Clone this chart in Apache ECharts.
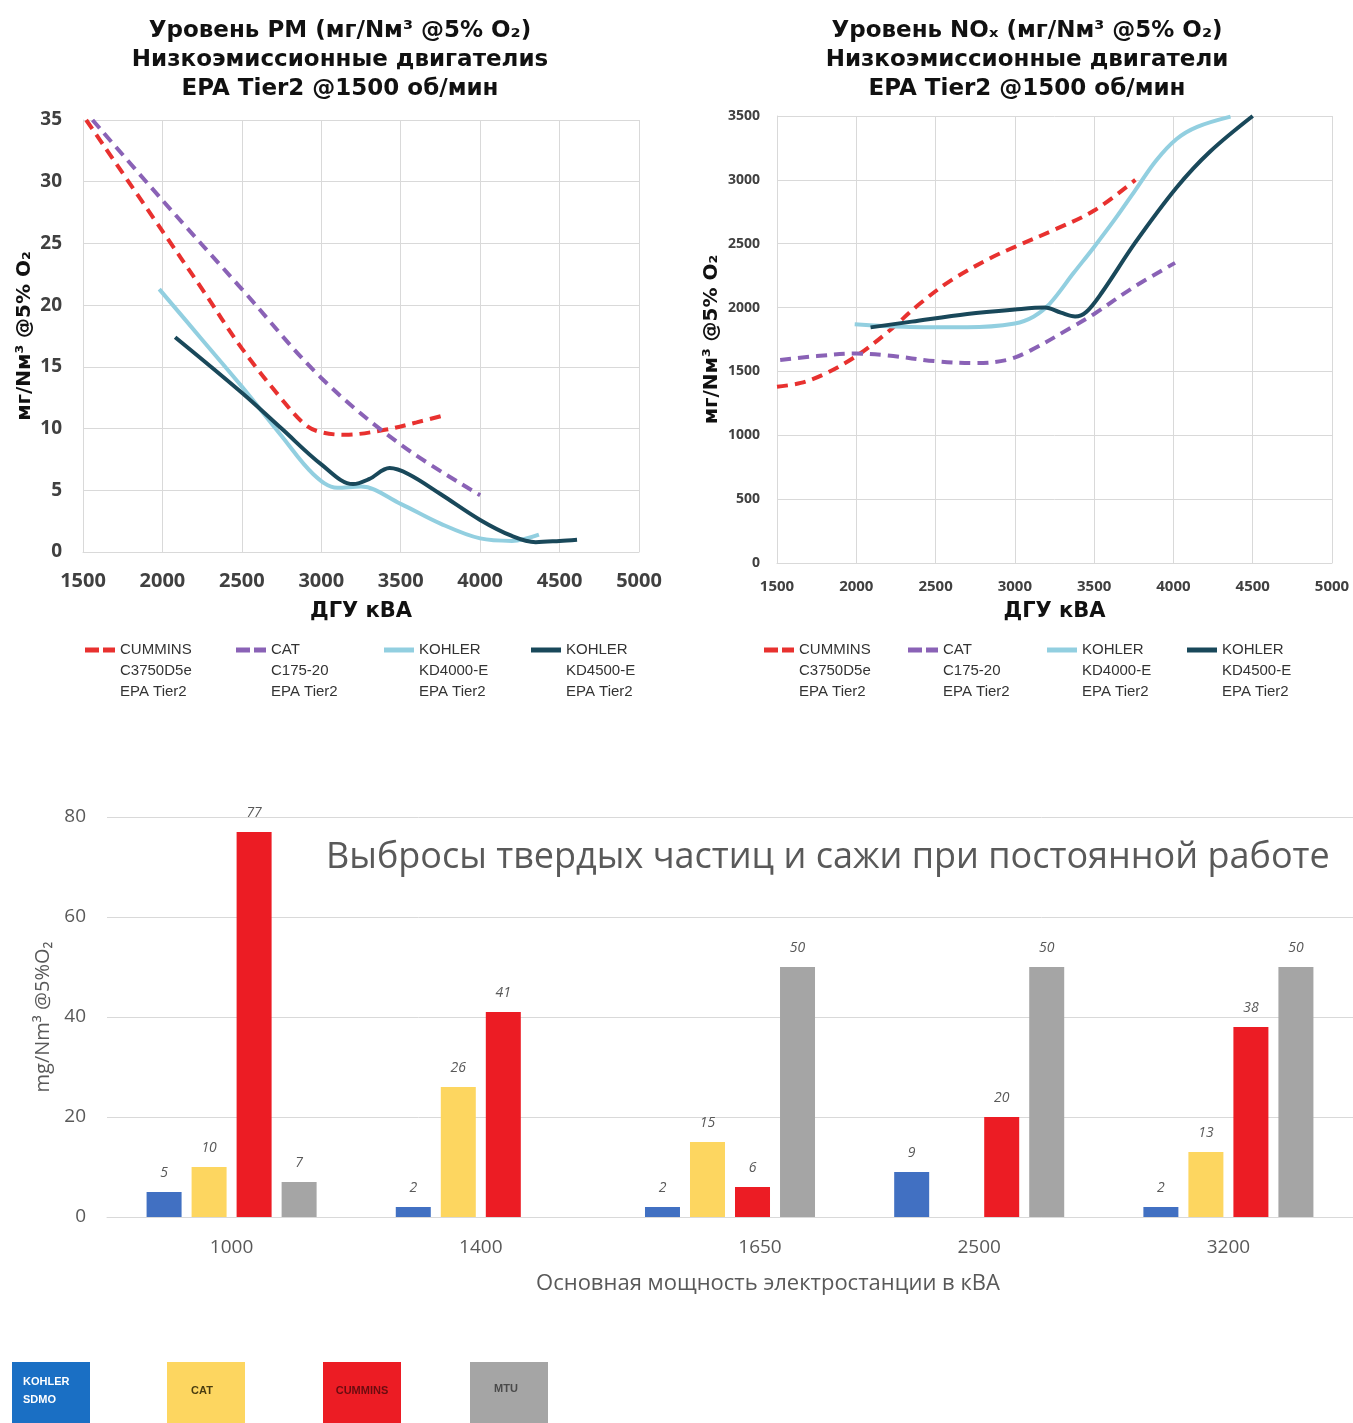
<!DOCTYPE html>
<html>
<head>
<meta charset="utf-8">
<script src="https://cdn.jsdelivr.net/npm/echarts@6/dist/echarts.min.js"></script>
<style>
html,body{margin:0;padding:0;background:#fff;}
#c{width:1353px;height:1423px;}
</style>
</head>
<body>
<div id="c"></div>
<script>
// ---------- DATA ----------
const seriesNames = ['CUMMINS\nC3750D5e\nEPA Tier2', 'CAT\nC175-20\nEPA Tier2', 'KOHLER\nKD4000-E\nEPA Tier2', 'KOHLER\nKD4500-E\nEPA Tier2'];
const pmCummins = [[1520,35],[2000,26],[2250,21.3],[2500,16.5],[2750,12.4],[2900,10.3],[3000,9.7],[3150,9.5],[3400,9.9],[3600,10.5],[3780,11.1]];
const pmCat = [[1560,35],[2000,28.5],[2500,21.3],[3000,14.1],[3500,8.7],[4000,4.6]];
const pmKd4000 = [[1980,21.3],[2250,17.2],[2500,13.4],[2750,9.4],[2950,6.3],[3100,5.2],[3250,5.3],[3500,3.9],[3750,2.3],[4000,1.1],[4200,0.9],[4370,1.4]];
const pmKd4500 = [[2080,17.4],[2500,12.9],[2750,10.0],[3000,7.1],[3200,5.5],[3300,5.9],[3430,6.8],[3550,6.3],[3750,4.7],[4000,2.6],[4200,1.3],[4350,0.8],[4500,0.9],[4610,1.0]];

const noxCummins = [[1500,1380],[1650,1410],[1800,1480],[2000,1620],[2200,1810],[2400,2030],[2600,2215],[2850,2390],[3000,2475],[3250,2610],[3500,2760],[3760,3000]];
const noxCat = [[1520,1590],[1750,1620],[2000,1640],[2200,1625],[2500,1580],[2750,1565],[2950,1590],[3100,1665],[3350,1840],[3500,1950],[3750,2160],[4010,2350]];
const noxKd4000 = [[1990,1870],[2300,1850],[2700,1845],[3000,1875],[3120,1930],[3220,2030],[3370,2270],[3500,2475],[3630,2690],[3760,2920],[3890,3150],[4020,3320],[4150,3415],[4360,3495]];
const noxKd4500 = [[2090,1845],[2350,1890],[2700,1950],[3000,1985],[3190,2000],[3290,1960],[3380,1930],[3450,1965],[3550,2120],[3760,2510],[4020,2940],[4230,3220],[4500,3500]];

const barCategories = ['1000', '1400', '1650', '2500', '3200'];
const barNames = ['KOHLER SDMO', 'CAT', 'CUMMINS', 'MTU'];
const barKohler = [5, 2, 2, 9, 2];
const barCat = [10, 26, 15, null, 13];
const barCummins = [77, 41, 6, 20, 38];
const barMtu = [7, null, 50, 50, 50];

// ---------- STYLE ----------
const lineColors = ['#e8312f', '#8a62b6', '#92cfe0', '#19485a'];
const lineTypes = [[11,7], [11,7], 'solid', 'solid'];
const legendIcons = ['path://M0 0H14V5H0Z M18 0H30V5H18Z', 'path://M0 0H14V5H0Z M18 0H30V5H18Z', 'path://M0 0H30V5H0Z', 'path://M0 0H30V5H0Z'];
const barColors = ['#4170c2', '#fdd660', '#ec1c24', '#a5a5a5'];
const titleFont = '"DejaVu Sans", sans-serif';
const tickFont = '"Open Sans", sans-serif';
const legFont = '"Liberation Sans", Arial, sans-serif';
const barFont = '"Open Sans", sans-serif';
const gridColor = '#d9d9d9';

const chart = echarts.init(document.getElementById('c'), null, {renderer: 'canvas'});

function lineSeries(name, data, i, axisIdx) {
  return {
    name: name, type: 'line', xAxisIndex: axisIdx, yAxisIndex: axisIdx,
    data: data, smooth: 0.35, symbol: 'none',
    lineStyle: {color: lineColors[i], width: 4, type: lineTypes[i]},
    itemStyle: {color: lineColors[i]},
    z: 3 + i
  };
}

function lineLegend(name, i, left, iconCenterY) {
  const lh = 21;
  return {
    data: [{name: name, icon: legendIcons[i]}], left: left, top: iconCenterY - 2.5 * lh,
    orient: 'horizontal', padding: 0,
    itemWidth: 30, itemHeight: 5, itemGap: 0, selectedMode: false,
    formatter: function (n) { return '\n\n' + n.trim(); },
    textStyle: {fontFamily: legFont, fontSize: 15, color: '#333', lineHeight: lh}
  };
}

function plain(v) { return String(v); }

function valAxisX(idx, fs, margin, nameGap) {
  return {
    gridIndex: idx, type: 'value', min: 1500, max: 5000, interval: 500,
    name: 'ДГУ кВА', nameLocation: 'middle', nameGap: nameGap,
    nameTextStyle: {fontFamily: titleFont, fontWeight: 'bold', fontSize: 21, color: '#111'},
    axisLine: {show: true, lineStyle: {color: gridColor}},
    axisTick: {show: false},
    splitLine: {show: true, lineStyle: {color: gridColor}},
    axisLabel: {formatter: plain, fontFamily: tickFont, fontWeight: 'bold', fontSize: fs, color: '#404040', margin: margin, showMaxLabel: true, showMinLabel: true}
  };
}
function valAxisY(idx, max, interval, fs, margin, nameGap, nameSize) {
  return {
    gridIndex: idx, type: 'value', min: 0, max: max, interval: interval,
    name: 'мг/Nм³ @5% O₂', nameLocation: 'middle', nameGap: nameGap, nameRotate: 90,
    nameTextStyle: {fontFamily: titleFont, fontWeight: 'bold', fontSize: nameSize, color: '#111'},
    axisLine: {show: true, lineStyle: {color: gridColor}},
    axisTick: {show: false},
    splitLine: {show: true, lineStyle: {color: gridColor}},
    axisLabel: {formatter: plain, fontFamily: tickFont, fontWeight: 'bold', fontSize: fs, color: '#404040', margin: margin}
  };
}

const titleStyle = {fontFamily: titleFont, fontWeight: 'bold', fontSize: 23, color: '#111', lineHeight: 29};

const option = {
  backgroundColor: '#ffffff',
  animation: false,
  title: [
    {text: 'Уровень PM (мг/Nм³ @5% O₂)\nНизкоэмиссионные двигателиs\nEPA Tier2 @1500 об/мин', left: 335, top: 12, textAlign: 'center', textStyle: titleStyle},
    {text: 'Уровень NOₓ (мг/Nм³ @5% O₂)\nНизкоэмиссионные двигатели\nEPA Tier2 @1500 об/мин', left: 1022, top: 12, textAlign: 'center', textStyle: titleStyle},
    {text: 'Выбросы твердых частиц и сажи при постоянной работе', left: 321, top: 835, textStyle: {fontFamily: barFont, fontWeight: 'normal', fontSize: 36, color: '#595959'}}
  ],
  grid: [
    {left: 83, top: 120, width: 556, height: 432},
    {left: 777, top: 116, width: 555, height: 447},
    {left: 107, top: 817, width: 1250, height: 400}
  ],
  legend: [
    lineLegend(seriesNames[0], 0, 85, 650),
    lineLegend(seriesNames[1], 1, 236, 650),
    lineLegend(seriesNames[2], 2, 384, 650),
    lineLegend(seriesNames[3], 3, 531, 650),
    lineLegend(seriesNames[0] + ' ', 0, 764, 650),
    lineLegend(seriesNames[1] + ' ', 1, 908, 650),
    lineLegend(seriesNames[2] + ' ', 2, 1047, 650),
    lineLegend(seriesNames[3] + ' ', 3, 1187, 650)
  ],
  xAxis: [
    valAxisX(0, 20, 19, 49),
    valAxisX(1, 15, 16, 38),
    {
      gridIndex: 2, type: 'category', data: barCategories.map(function (c, i) {
        return i === 2 ? {value: c, textStyle: {padding: [0, 0, 0, 60]}} : c;
      }),
      name: 'Основная мощность электростанции в кВА', nameLocation: 'middle', nameGap: 56,
      nameTextStyle: {fontFamily: barFont, fontSize: 22, color: '#595959', padding: [0, 0, 0, 76]},
      axisLine: {show: true, lineStyle: {color: gridColor}},
      axisTick: {show: false},
      axisLabel: {fontFamily: barFont, fontSize: 19, color: '#595959', margin: 21}
    }
  ],
  yAxis: [
    valAxisY(0, 35, 5, 19, 21, 48, 20),
    valAxisY(1, 3500, 500, 14, 17, 55, 20),
    {
      gridIndex: 2, type: 'value', min: 0, max: 80, interval: 20,
      name: 'mg/Nm³ @5%O₂', nameLocation: 'middle', nameGap: 52, nameRotate: 90,
      nameTextStyle: {fontFamily: barFont, fontSize: 20, color: '#595959'},
      axisLine: {show: false}, axisTick: {show: false},
      splitLine: {show: true, lineStyle: {color: gridColor}},
      axisLabel: {formatter: plain, fontFamily: barFont, fontSize: 19, color: '#595959', margin: 21}
    }
  ],
  series: [
    lineSeries(seriesNames[0], pmCummins, 0, 0),
    lineSeries(seriesNames[1], pmCat, 1, 0),
    lineSeries(seriesNames[2], pmKd4000, 2, 0),
    lineSeries(seriesNames[3], pmKd4500, 3, 0),
    lineSeries(seriesNames[0] + ' ', noxCummins, 0, 1),
    lineSeries(seriesNames[1] + ' ', noxCat, 1, 1),
    lineSeries(seriesNames[2] + ' ', noxKd4000, 2, 1),
    lineSeries(seriesNames[3] + ' ', noxKd4500, 3, 1)
  ].concat([barKohler, barCat, barCummins, barMtu].map(function (d, i) {
    return {
      name: barNames[i], type: 'bar', xAxisIndex: 2, yAxisIndex: 2, data: d,
      barWidth: 35, barGap: '28.6%',
      itemStyle: {color: barColors[i]},
      label: {show: true, position: 'top', distance: 12, fontFamily: barFont, fontStyle: 'italic', fontSize: 14, color: '#595959'}
    };
  })),
  graphic: [
    {type: 'rect', shape: {x: 12, y: 1362, width: 78, height: 62}, style: {fill: '#1a6fc4'}},
    {type: 'text', style: {x: 23, y: 1391, text: 'KOHLER\nSDMO', fill: '#ffffff', font: 'bold 11px "Liberation Sans", Arial', lineHeight: 18, verticalAlign: 'middle'}},
    {type: 'rect', shape: {x: 167, y: 1362, width: 78, height: 62}, style: {fill: '#fdd660'}},
    {type: 'text', style: {x: 202, y: 1391, text: 'CAT', fill: '#4a3d10', font: 'bold 11px "Liberation Sans", Arial', align: 'center', verticalAlign: 'middle'}},
    {type: 'rect', shape: {x: 323, y: 1362, width: 78, height: 62}, style: {fill: '#ec1c24'}},
    {type: 'text', style: {x: 362, y: 1391, text: 'CUMMINS', fill: '#6a0c10', font: 'bold 11px "Liberation Sans", Arial', align: 'center', verticalAlign: 'middle'}},
    {type: 'rect', shape: {x: 470, y: 1362, width: 78, height: 62}, style: {fill: '#a5a5a5'}},
    {type: 'text', style: {x: 506, y: 1389, text: 'MTU', fill: '#4a4a4a', font: 'bold 11px "Liberation Sans", Arial', align: 'center', verticalAlign: 'middle'}}
  ]
};
chart.setOption(option);
</script>
</body>
</html>
